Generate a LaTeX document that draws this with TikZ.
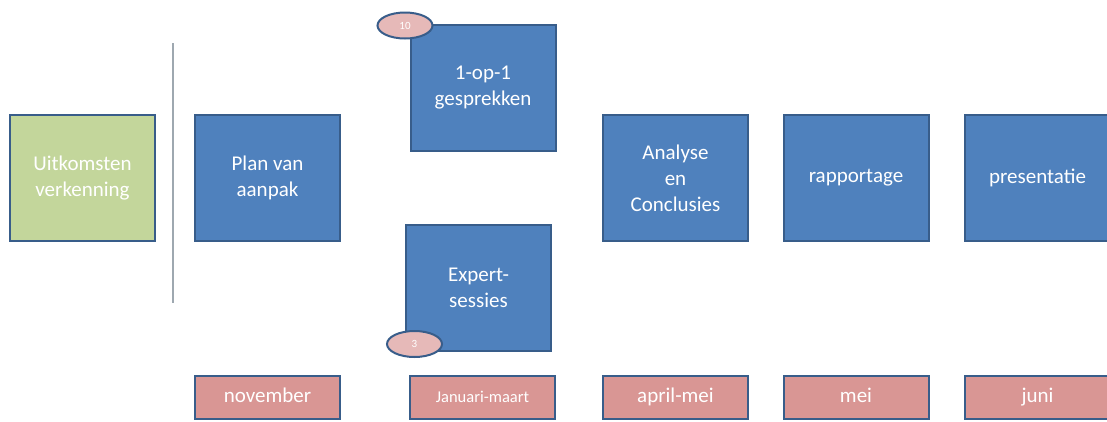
\documentclass[tikz,border=0pt]{standalone}
\usepackage{fontspec}
\setmainfont{Carlito}
\usetikzlibrary{shapes.geometric}
\definecolor{stepblue}{HTML}{4F81BD}
\definecolor{edgeblue}{HTML}{385D8A}
\definecolor{stepgreen}{HTML}{C3D69B}
\definecolor{monthpink}{HTML}{D99694}
\definecolor{countpink}{HTML}{E6B9B8}
\definecolor{divider}{HTML}{9EA8B0}
\begin{document}
\begin{tikzpicture}[x=1pt,y=-1pt,
  box/.style={draw=edgeblue,line width=2pt,minimum width=145pt,minimum height=126pt,
    text=white,align=center,font=\fontsize{21}{26}\selectfont,inner sep=0pt},
  stepbox/.style={box,fill=stepblue},
  startbox/.style={box,fill=stepgreen,text=white},
  monthbox/.style={draw=edgeblue,line width=2pt,fill=monthpink,minimum width=145pt,
    minimum height=43pt,text=white,font=\fontsize{21}{26}\selectfont,inner sep=0pt,
    text height=2.2ex,text depth=0ex},
  countmark/.style={ellipse,draw=edgeblue,line width=2pt,fill=countpink,minimum width=55pt,
    minimum height=26pt,text=white,font=\fontsize{11}{13}\selectfont,inner sep=0pt}]
\useasboundingbox (0,0) rectangle (1107,421);
\fill[white] (0,0) rectangle (1107,421);

% phase blocks
\node[startbox] (uit) at (82.5,178) {Uitkomsten\\verkenning};
\node[stepbox] (plan) at (267.5,178) {Plan van\\aanpak};
\node[stepbox] (een) at (483,87.5) {1-op-1\\gesprekken};
\node[stepbox] (exp) at (478.5,287.5) {Expert-\\sessies};
\node[stepbox] (ana) at (675.5,178) {Analyse\\en\\Conclusies};
\node[stepbox] (rap) at (856,178) {rapportage};
\node[stepbox] (pres) at (1037.5,178) {presentatie};

% session counts
\node[countmark] (n10) at (405,25.5) {10};
\node[countmark] (n3) at (414.5,344) {3};

% months
\node[monthbox] (nov) at (267.5,397.5) {november};
\node[monthbox,font=\fontsize{16.5}{20}\selectfont] (jan) at (482.5,397.5) {Januari-maart};
\node[monthbox] (apr) at (675.5,397.5) {april-mei};
\node[monthbox] (mei) at (856,397.5) {mei};
\node[monthbox] (jun) at (1037.5,397.5) {juni};

% divider between outcome and plan
\coordinate (dtop) at (173,43);
\coordinate (dbot) at (173,303);
\draw[divider,line width=1.6pt] (dtop) -- (dbot);
\end{tikzpicture}
\end{document}
